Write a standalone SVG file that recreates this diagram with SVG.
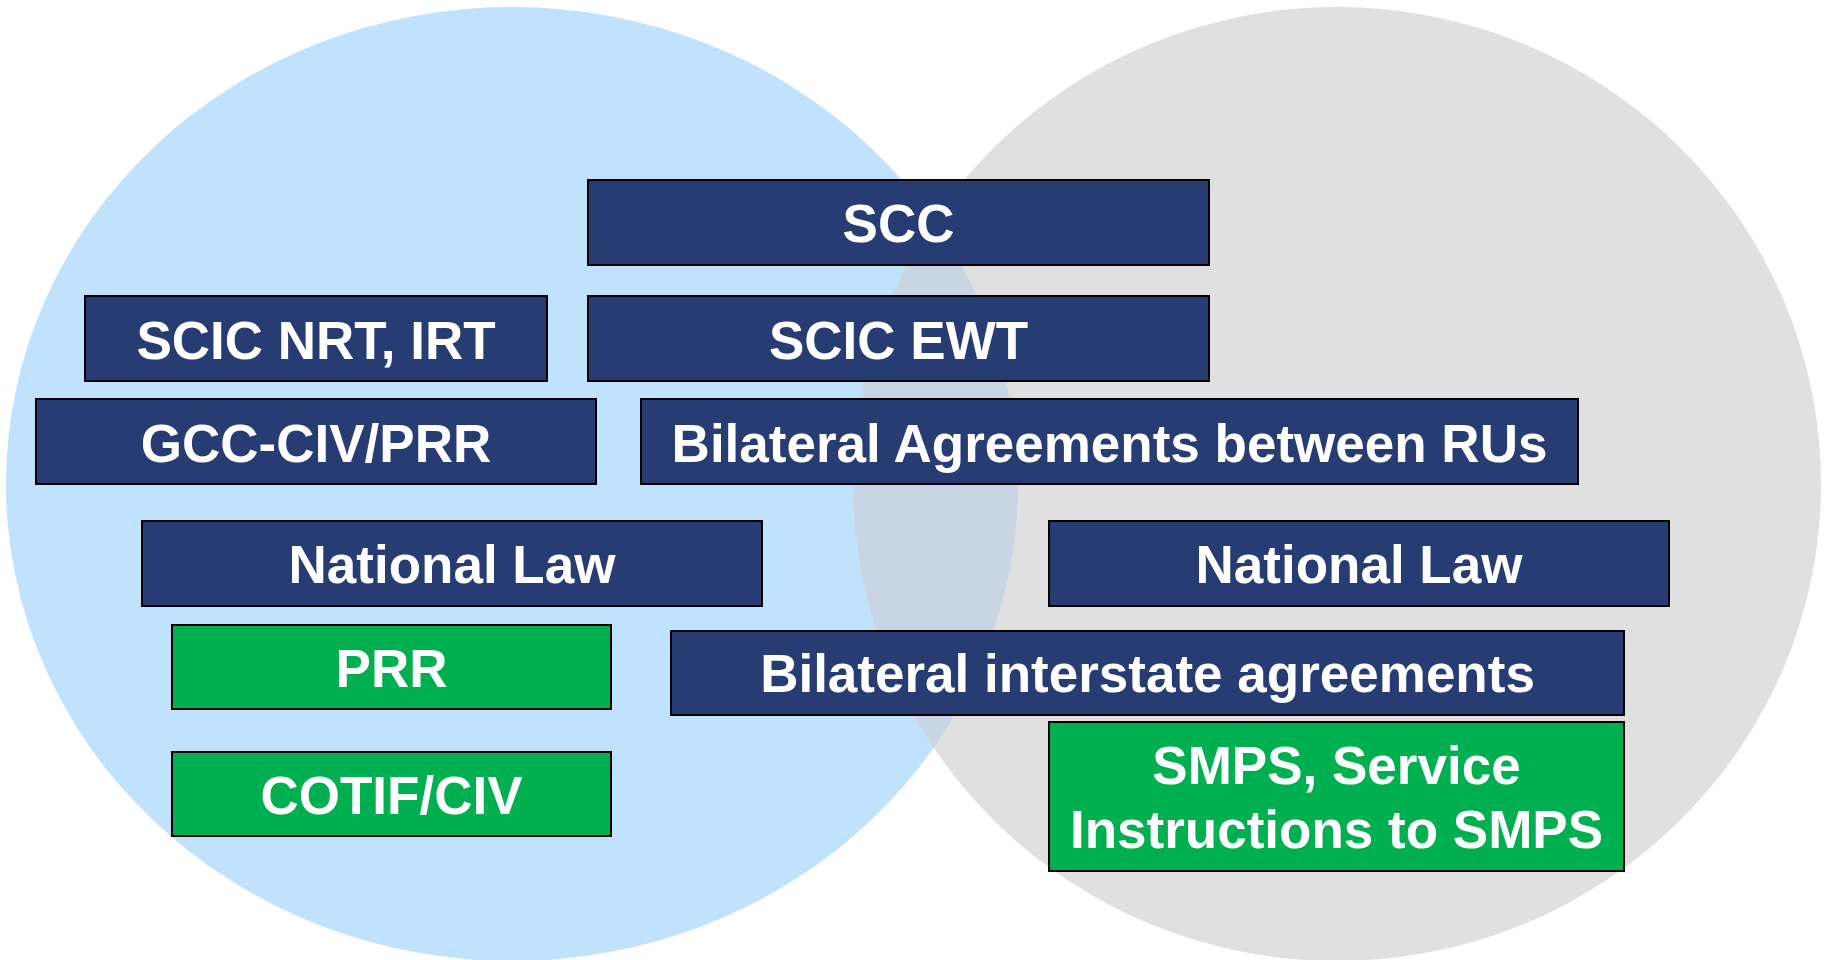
<svg xmlns="http://www.w3.org/2000/svg" width="1825" height="960" viewBox="0 0 1825 960">
  <style>
    .navy { fill: #263C73; stroke: #000000; stroke-width: 2; }
    .green { fill: #00AF50; stroke: #000000; stroke-width: 2; }
    .lbl { font-family: "Liberation Sans", Arial, sans-serif; font-weight: bold; font-size: 53px; fill: #FFFFFF; text-anchor: middle; }
  </style>
  <defs>
    <clipPath id="leftClip">
      <ellipse cx="512" cy="484" rx="506" ry="477"/>
    </clipPath>
  </defs>
  <rect x="0" y="0" width="1825" height="960" fill="#FFFFFF"/>
  <g id="sets">
    <ellipse id="left-set" cx="512" cy="484" rx="506" ry="477" fill="#C0E2FC"/>
    <ellipse id="right-set" cx="1337" cy="484" rx="484" ry="477" fill="#E0E0E0"/>
    <ellipse id="overlap" cx="1337" cy="484" rx="484" ry="477" fill="#C8D5E2" clip-path="url(#leftClip)"/>
  </g>
  <g id="connectors"></g>
  <g id="scc">
    <rect class="navy" x="588" y="180" width="621" height="85"/>
    <text class="lbl" x="898.5" y="242">SCC</text>
  </g>
  <g id="scic-nrt-irt">
    <rect class="navy" x="85" y="296" width="462" height="85"/>
    <text class="lbl" x="316" y="359">SCIC NRT, IRT</text>
  </g>
  <g id="scic-ewt">
    <rect class="navy" x="588" y="296" width="621" height="85"/>
    <text class="lbl" x="898.5" y="359">SCIC EWT</text>
  </g>
  <g id="gcc-civ-prr">
    <rect class="navy" x="36" y="399" width="560" height="85"/>
    <text class="lbl" x="316" y="462">GCC-CIV/PRR</text>
  </g>
  <g id="bilateral-rus">
    <rect class="navy" x="641" y="399" width="937" height="85"/>
    <text class="lbl" x="1109.5" y="462">Bilateral Agreements between RUs</text>
  </g>
  <g id="national-law-left">
    <rect class="navy" x="142" y="521" width="620" height="85"/>
    <text class="lbl" x="452" y="583">National Law</text>
  </g>
  <g id="national-law-right">
    <rect class="navy" x="1049" y="521" width="620" height="85"/>
    <text class="lbl" x="1359" y="583">National Law</text>
  </g>
  <g id="prr">
    <rect class="green" x="172" y="625" width="439" height="84"/>
    <text class="lbl" x="391.5" y="687">PRR</text>
  </g>
  <g id="bilateral-interstate">
    <rect class="navy" x="671" y="631" width="953" height="84"/>
    <text class="lbl" x="1147.5" y="692">Bilateral interstate agreements</text>
  </g>
  <g id="cotif-civ">
    <rect class="green" x="172" y="752" width="439" height="84"/>
    <text class="lbl" x="391.5" y="814">COTIF/CIV</text>
  </g>
  <g id="smps">
    <rect class="green" x="1049" y="722" width="575" height="149"/>
    <text class="lbl" x="1336.5" y="784">SMPS, Service</text>
    <text class="lbl" x="1336.5" y="848">Instructions to SMPS</text>
  </g>
</svg>
